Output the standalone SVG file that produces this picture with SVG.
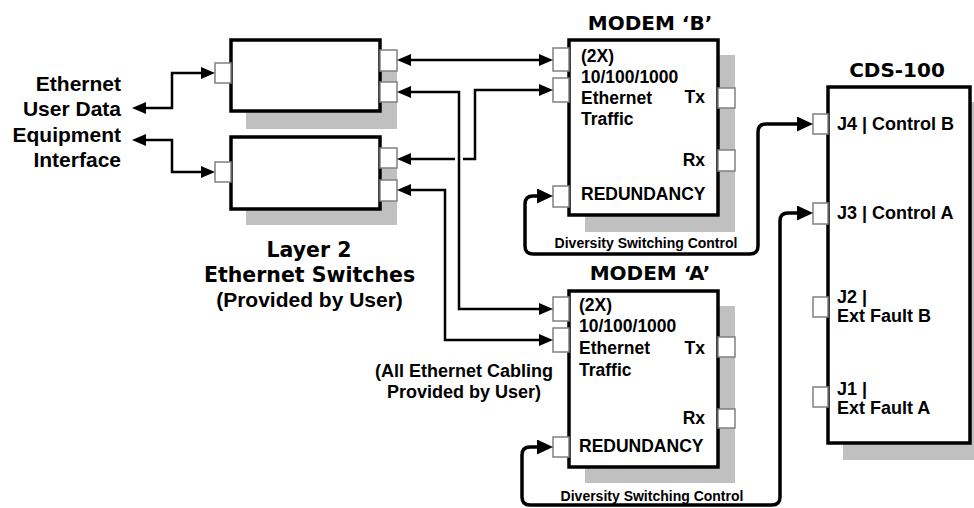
<svg xmlns="http://www.w3.org/2000/svg" width="974" height="508" viewBox="0 0 974 508">
<style>
.box{fill:#fff;stroke:#000;stroke-width:3.5}
.shadow{fill:#c0c0c0;stroke:none}
.port{fill:#fff;stroke:#808080;stroke-width:1.5}
.t{font-family:"Liberation Sans",Arial,sans-serif;font-weight:bold;fill:#000}
.title{font-family:"DejaVu Sans",sans-serif;font-weight:bold;font-size:20px;fill:#000;text-anchor:middle}
.mt{font-size:17.5px}
.ct{font-size:18px}
.conn{fill:none;stroke:#000;stroke-width:2.5}
.loop{fill:none;stroke:#000;stroke-width:3.5}
</style>
<defs>
<marker id="am" markerUnits="userSpaceOnUse" markerWidth="14" markerHeight="12" refX="4" refY="6" orient="auto-start-reverse" viewBox="0 0 14 12"><path d="M0,0 L14,6 L0,12 z" fill="#000"/></marker>
<marker id="al" markerUnits="userSpaceOnUse" markerWidth="16" markerHeight="15" refX="4" refY="7.5" orient="auto-start-reverse" viewBox="0 0 16 15"><path d="M0,0 L16,7.5 L0,15 z" fill="#000"/></marker>
</defs>

<g id="labels-left">
<text class="t" font-size="21" text-anchor="end" x="121" y="91">Ethernet</text>
<text class="t" font-size="21" text-anchor="end" x="121" y="116">User Data</text>
<text class="t" font-size="21" text-anchor="end" x="121" y="142">Equipment</text>
<text class="t" font-size="21" text-anchor="end" x="121" y="167">Interface</text>
</g>

<g id="switch1">
<rect class="shadow" x="246" y="58" width="151" height="71"/>
<rect class="box" x="231" y="40" width="149" height="71"/>
<rect class="port" x="215" y="63" width="16" height="20"/>
<rect class="port" x="380" y="50" width="17" height="21"/>
<rect class="port" x="380" y="82" width="17" height="20"/>
</g>

<g id="switch2">
<rect class="shadow" x="246" y="154" width="151" height="71"/>
<rect class="box" x="231" y="137" width="149" height="72"/>
<rect class="port" x="215" y="162" width="16" height="20"/>
<rect class="port" x="380" y="148" width="17" height="20"/>
<rect class="port" x="380" y="180" width="17" height="21"/>
</g>

<g id="switch-label">
<text class="title" x="309" y="257" style="font-size:20.5px">Layer 2</text>
<text class="title" x="309.5" y="282" style="font-size:20.5px">Ethernet Switches</text>
<text class="t" font-size="21" text-anchor="middle" x="309.5" y="307">(Provided by User)</text>
</g>

<g id="cabling-label">
<text class="t ct" text-anchor="middle" x="464" y="377">(All Ethernet Cabling</text>
<text class="t ct" text-anchor="middle" x="464" y="398">Provided by User)</text>
</g>

<g id="modemB">
<text class="title" x="650" y="30">MODEM ‘B’</text>
<rect class="shadow" x="585" y="55" width="150" height="177"/>
<rect class="box" x="569" y="40" width="149" height="175"/>
<rect class="port" x="553" y="48" width="16" height="23"/>
<rect class="port" x="553" y="78" width="16" height="24"/>
<rect class="port" x="718" y="88" width="17" height="20"/>
<rect class="port" x="718" y="150" width="17" height="21"/>
<rect class="port" x="553" y="186" width="16" height="21"/>
<text class="t mt" x="581" y="62">(2X)</text>
<text class="t mt" x="581" y="83">10/100/1000</text>
<text class="t mt" x="581" y="104">Ethernet</text>
<text class="t mt" x="581" y="125">Traffic</text>
<text class="t mt" x="581" y="200">REDUNDANCY</text>
<text class="t mt" text-anchor="end" x="705" y="103">Tx</text>
<text class="t mt" text-anchor="end" x="705" y="166">Rx</text>
</g>

<g id="modemA">
<text class="title" x="650" y="280">MODEM ‘A’</text>
<rect class="shadow" x="585" y="306" width="150" height="177"/>
<rect class="box" x="569" y="291" width="149" height="176"/>
<rect class="port" x="553" y="297" width="16" height="24"/>
<rect class="port" x="553" y="328" width="16" height="24"/>
<rect class="port" x="718" y="337" width="17" height="20"/>
<rect class="port" x="718" y="409" width="17" height="19"/>
<rect class="port" x="553" y="437" width="16" height="20"/>
<text class="t mt" x="579" y="311">(2X)</text>
<text class="t mt" x="579" y="332">10/100/1000</text>
<text class="t mt" x="579" y="354">Ethernet</text>
<text class="t mt" x="579" y="376">Traffic</text>
<text class="t mt" x="579" y="452">REDUNDANCY</text>
<text class="t mt" text-anchor="end" x="705" y="354">Tx</text>
<text class="t mt" text-anchor="end" x="705" y="424">Rx</text>
</g>

<g id="cds100">
<text class="title" x="897" y="77">CDS-100</text>
<rect class="shadow" x="843" y="102" width="142" height="358"/>
<rect class="box" x="828" y="87" width="142" height="356"/>
<rect class="port" x="813" y="114" width="15" height="20"/>
<rect class="port" x="813" y="203" width="15" height="21"/>
<rect class="port" x="813" y="297" width="15" height="20"/>
<rect class="port" x="813" y="387" width="15" height="20"/>
<text class="t ct" x="837" y="130">J4 | Control B</text>
<text class="t ct" x="837" y="219">J3 | Control A</text>
<text class="t ct" x="837" y="303">J2 |</text>
<text class="t ct" x="837" y="322">Ext Fault B</text>
<text class="t ct" x="837" y="395">J1 |</text>
<text class="t ct" x="837" y="414">Ext Fault A</text>
</g>

<g id="connectors">
<path class="conn" d="M142,108 H172 V73 H205" marker-start="url(#am)" marker-end="url(#am)"/>
<path class="conn" d="M142,140 H172 V172 H205" marker-start="url(#am)" marker-end="url(#am)"/>
<path class="conn" d="M407,60 H543" marker-start="url(#am)" marker-end="url(#am)"/>
<path class="conn" d="M407,92 H459 V309 H543" marker-start="url(#am)" marker-end="url(#am)"/>
<path class="conn" d="M407,159 H455 M463,159 H475 V90 H543" marker-start="url(#am)" marker-end="url(#am)"/>
<path class="conn" d="M407,190 H445 V340 H543" marker-start="url(#am)" marker-end="url(#am)"/>
<path class="loop" d="M541,196 H533 Q525,196 525,204 V246 Q525,254 533,254 H750 Q758,254 758,246 V132 Q758,124 766,124 H801" marker-start="url(#al)" marker-end="url(#al)"/>
<path class="loop" d="M541,447 H530 Q522,447 522,455 V497 Q522,505 530,505 H772 Q780,505 780,497 V221 Q780,213 788,213 H801" marker-start="url(#al)" marker-end="url(#al)"/>
<text class="t" font-size="14" text-anchor="middle" x="646" y="248">Diversity Switching Control</text>
<text class="t" font-size="14" text-anchor="middle" x="652" y="501">Diversity Switching Control</text>
</g>
</svg>
